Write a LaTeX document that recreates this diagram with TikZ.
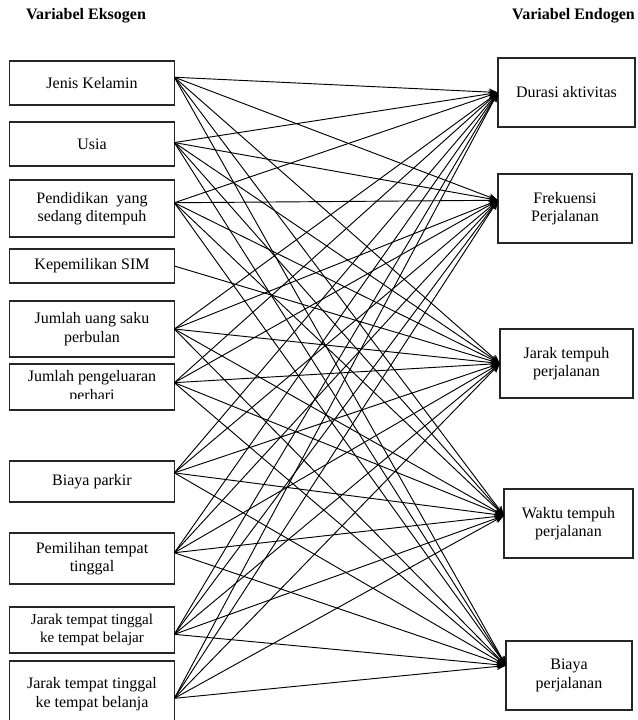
\documentclass[tikz,border=0pt]{standalone}
\usepackage{fontspec}
\setmainfont{Liberation Serif}
\usetikzlibrary{arrows.meta}
\tikzset{
  kotak/.style={draw=black!85, line width=0.8pt, align=center, inner sep=1pt, outer sep=0pt,
    font=\fontsize{12}{13.8}\selectfont},
  exo/.style={kotak, minimum width=123.5pt},
  endo/.style={kotak, minimum height=51.75pt},
  panah/.style={line width=0.7pt, -{Stealth[length=7pt,width=5.5pt]}},
  judul/.style={font=\fontsize{12}{14}\selectfont\bfseries}
}
\begin{document}
\begin{tikzpicture}[x=0.75pt,y=-0.75pt]
        \clip (0,0) rectangle (638,720);
        % judul
        \node[judul] (eks) at (86,16) {Variabel Eksogen};
        \node[judul] (endg) at (573.5,16) {Variabel Endogen};
        % variabel eksogen
        \node[exo, minimum height=33pt] (jk) at (92,83) {Jenis Kelamin};
        \node[exo, minimum height=33pt] (us) at (92,144) {Usia};
        \node[exo, minimum height=42.75pt] (pd) at (92,208.5) {Pendidikan~ yang\\sedang ditempuh};
        \node[exo, minimum height=25.5pt] (sim) at (92,266) {Kepemilikan SIM};
        \node[exo, minimum height=42pt] (uang) at (92,329) {Jumlah uang saku\\perbulan};
        \node[exo, minimum height=34.5pt] (pg) at (92,387) {};
        \begin{scope}
        \clip (10,364) rectangle (175,398);
        \node[kotak, draw=none] (pgteks) at (pg.center) {Jumlah pengeluaran\\perhari};
        \end{scope}
        \node[exo, minimum height=30.75pt] (bp) at (92,481.5) {Biaya parkir};
        \node[exo, minimum height=38.25pt] (pt) at (92,558.5) {Pemilihan tempat\\tinggal};
        \node[exo, minimum height=34.5pt, font=\fontsize{11.3}{13.2}\selectfont] (jb) at (92,630) {Jarak tempat tinggal\\ke tempat belajar};
        \node[exo, minimum height=49.5pt] (jbl) at (92,694) {Jarak tempat tinggal\\ke tempat belanja};
        % variabel endogen
        \node[endo, minimum width=102.75pt] (dur) at (566.5,92.5) {Durasi aktivitas};
        \node[endo, minimum width=100.5pt] (frek) at (565,208.5) {Frekuensi\\Perjalanan};
        \node[endo, minimum width=99.75pt] (jt) at (566.5,363.5) {Jarak tempuh\\perjalanan};
        \node[endo, minimum width=96.75pt] (wt) at (568.5,523.5) {Waktu tempuh\\perjalanan};
        \node[endo, minimum width=94.5pt] (bj) at (569,675.5) {Biaya\\perjalanan};
        % panah
        \foreach \a/\aa in {jk/4, us/1, pd/4, uang/0, pg/3, bp/6, pt/4, jb/357, jbl/357}
          \foreach \b/\bb in {dur/180, frek/173, jt/180, wt/173, bj/171}
            \draw[panah] (\a.\aa) -- (\b.\bb);
        \draw[panah] (sim.0) -- (jt.180);
\end{tikzpicture}
\end{document}
